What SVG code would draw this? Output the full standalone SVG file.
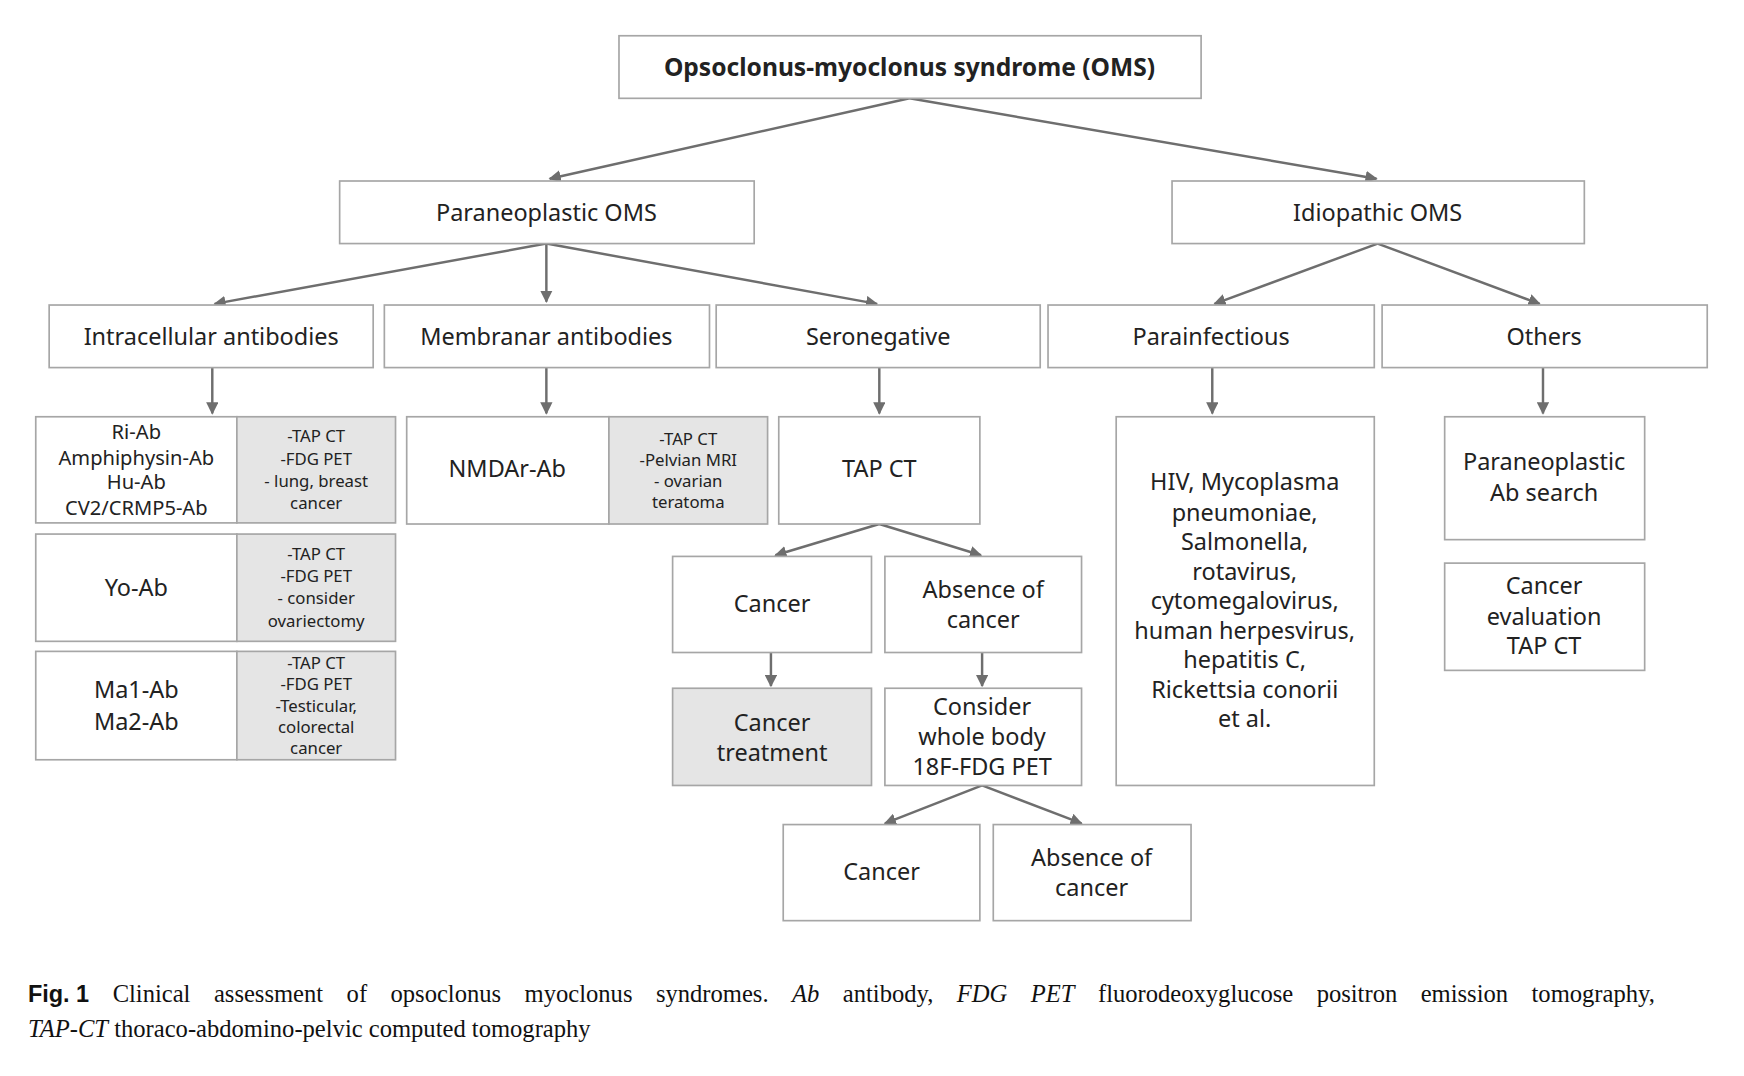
<svg xmlns="http://www.w3.org/2000/svg" width="1744" height="1076" viewBox="0 0 1744 1076">
<style>
.b{fill:#fff;stroke:#a6a6a6;stroke-width:1.5}
.g{fill:#e5e5e5;stroke:#a6a6a6;stroke-width:1.5}
text{font-family:"Noto Sans","DejaVu Sans",sans-serif;fill:#222;text-anchor:middle}
.t{font-size:21px}
.s{font-size:15px}
.c{stroke:#6e6e6e;stroke-width:2.2;fill:none;marker-end:url(#a)}
.cap{font-family:"Liberation Serif",serif;font-size:22px;text-anchor:start;fill:#111}
</style>
<defs><marker id="a" viewBox="0 0 10 10" refX="9" refY="5" markerWidth="5" markerHeight="5" orient="auto"><path d="M0,0L10,5L0,10z" fill="#6e6e6e"/></marker></defs>
<rect width="1744" height="1076" fill="#fff"/>
<g transform="scale(1.1173)">
<g id="connectors">
<path class="c" d="M814,88L492,160"/><path class="c" d="M814,88L1232,160"/>
<path class="c" d="M489,218L192,272"/><path class="c" d="M489,218L489,270"/><path class="c" d="M489,218L785,272"/>
<path class="c" d="M1233,218L1087,272"/><path class="c" d="M1233,218L1378,272"/>
<path class="c" d="M190,329L190,370"/><path class="c" d="M489,329L489,370"/><path class="c" d="M787,329L787,370"/><path class="c" d="M1085,329L1085,370"/><path class="c" d="M1381,329L1381,370"/>
<path class="c" d="M787,469L694,497"/><path class="c" d="M787,469L878,497"/>
<path class="c" d="M690,584L690,614"/><path class="c" d="M879,584L879,614"/>
<path class="c" d="M879,703L792,737"/><path class="c" d="M879,703L968,737"/>
</g>
<g id="oms"><rect class="b" x="554" y="32" width="521" height="56"/><text x="814" y="68" style="font-size:22px;font-weight:bold">Opsoclonus-myoclonus syndrome (OMS)</text></g>
<g id="para"><rect class="b" x="304" y="162" width="371" height="56"/><text class="t" x="489" y="198">Paraneoplastic OMS</text></g>
<g id="idio"><rect class="b" x="1049" y="162" width="369" height="56"/><text class="t" x="1233" y="198">Idiopathic OMS</text></g>
<g id="intra"><rect class="b" x="44" y="273" width="290" height="56"/><text class="t" x="189" y="309">Intracellular antibodies</text></g>
<g id="memb"><rect class="b" x="344" y="273" width="291" height="56"/><text class="t" x="489" y="309">Membranar antibodies</text></g>
<g id="sero"><rect class="b" x="641" y="273" width="290" height="56"/><text class="t" x="786" y="309">Seronegative</text></g>
<g id="parainf"><rect class="b" x="938" y="273" width="292" height="56"/><text class="t" x="1084" y="309">Parainfectious</text></g>
<g id="others"><rect class="b" x="1237" y="273" width="291" height="56"/><text class="t" x="1382" y="309">Others</text></g>
<g id="ri"><rect class="b" x="32" y="373" width="180" height="95"/><text x="122" y="393" style="font-size:18px">Ri-Ab</text><text x="122" y="416" style="font-size:18px">Amphiphysin-Ab</text><text x="122" y="438" style="font-size:18px">Hu-Ab</text><text x="122" y="461" style="font-size:18px">CV2/CRMP5-Ab</text></g>
<g id="ri2"><rect class="g" x="212" y="373" width="142" height="95"/><text class="s" x="283" y="396">-TAP CT</text><text class="s" x="283" y="416">-FDG PET</text><text class="s" x="283" y="436">- lung, breast</text><text class="s" x="283" y="456">cancer</text></g>
<g id="yo"><rect class="b" x="32" y="478" width="180" height="96"/><text class="t" x="122" y="533">Yo-Ab</text></g>
<g id="yo2"><rect class="g" x="212" y="478" width="142" height="96"/><text class="s" x="283" y="501">-TAP CT</text><text class="s" x="283" y="521">-FDG PET</text><text class="s" x="283" y="541">- consider</text><text class="s" x="283" y="561">ovariectomy</text></g>
<g id="ma"><rect class="b" x="32" y="583" width="180" height="97"/><text class="t" x="122" y="625">Ma1-Ab</text><text class="t" x="122" y="653">Ma2-Ab</text></g>
<g id="ma2"><rect class="g" x="212" y="583" width="142" height="97"/><text class="s" x="283" y="599">-TAP CT</text><text class="s" x="283" y="618">-FDG PET</text><text class="s" x="283" y="637">-Testicular,</text><text class="s" x="283" y="656">colorectal</text><text class="s" x="283" y="675">cancer</text></g>
<g id="nmda"><rect class="b" x="364" y="373" width="181" height="96"/><text class="t" x="454" y="427">NMDAr-Ab</text></g>
<g id="nmda2"><rect class="g" x="545" y="373" width="142" height="96"/><text class="s" x="616" y="398">-TAP CT</text><text class="s" x="616" y="417">-Pelvian MRI</text><text class="s" x="616" y="436">- ovarian</text><text class="s" x="616" y="455">teratoma</text></g>
<g id="tapct"><rect class="b" x="697" y="373" width="180" height="96"/><text class="t" x="787" y="427">TAP CT</text></g>
<g id="cancer1"><rect class="b" x="602" y="498" width="178" height="86"/><text class="t" x="691" y="548">Cancer</text></g>
<g id="abs1"><rect class="b" x="792" y="498" width="176" height="86"/><text class="t" x="880" y="535">Absence of</text><text class="t" x="880" y="562">cancer</text></g>
<g id="treat"><rect class="g" x="602" y="616" width="178" height="87"/><text class="t" x="691" y="654">Cancer</text><text class="t" x="691" y="681">treatment</text></g>
<g id="pet"><rect class="b" x="792" y="616" width="176" height="87"/><text class="t" x="879" y="640">Consider</text><text class="t" x="879" y="667">whole body</text><text class="t" x="879" y="694">18F-FDG PET</text></g>
<g id="cancer2"><rect class="b" x="701" y="738" width="176" height="86"/><text class="t" x="789" y="788">Cancer</text></g>
<g id="abs2"><rect class="b" x="889" y="738" width="177" height="86"/><text class="t" x="977" y="775">Absence of</text><text class="t" x="977" y="802">cancer</text></g>
<g id="hiv"><rect class="b" x="999" y="373" width="231" height="330"/><text class="t" x="1114" y="439">HIV, Mycoplasma</text><text class="t" x="1114" y="466">pneumoniae,</text><text class="t" x="1114" y="492">Salmonella,</text><text class="t" x="1114" y="519">rotavirus,</text><text class="t" x="1114" y="545">cytomegalovirus,</text><text class="t" x="1114" y="572">human herpesvirus,</text><text class="t" x="1114" y="598">hepatitis C,</text><text class="t" x="1114" y="625">Rickettsia conorii</text><text class="t" x="1114" y="651">et al.</text></g>
<g id="absearch"><rect class="b" x="1293" y="373" width="179" height="110"/><text class="t" x="1382" y="421">Paraneoplastic</text><text class="t" x="1382" y="448">Ab search</text></g>
<g id="caneval"><rect class="b" x="1293" y="504" width="179" height="96"/><text class="t" x="1382" y="532">Cancer</text><text class="t" x="1382" y="559">evaluation</text><text class="t" x="1382" y="585">TAP CT</text></g>
<g id="caption">
<text class="cap" x="25" y="897" word-spacing="15.5"><tspan style="font-family:'Liberation Sans',sans-serif;font-weight:bold;font-size:21px" word-spacing="0">Fig. 1</tspan>  Clinical assessment of opsoclonus myoclonus syndromes. <tspan font-style="italic">Ab</tspan> antibody, <tspan font-style="italic">FDG PET</tspan> fluorodeoxyglucose positron emission tomography,</text>
<text class="cap" x="25" y="928"><tspan font-style="italic">TAP-CT</tspan> thoraco-abdomino-pelvic computed tomography</text>
</g>
</g>
</svg>
